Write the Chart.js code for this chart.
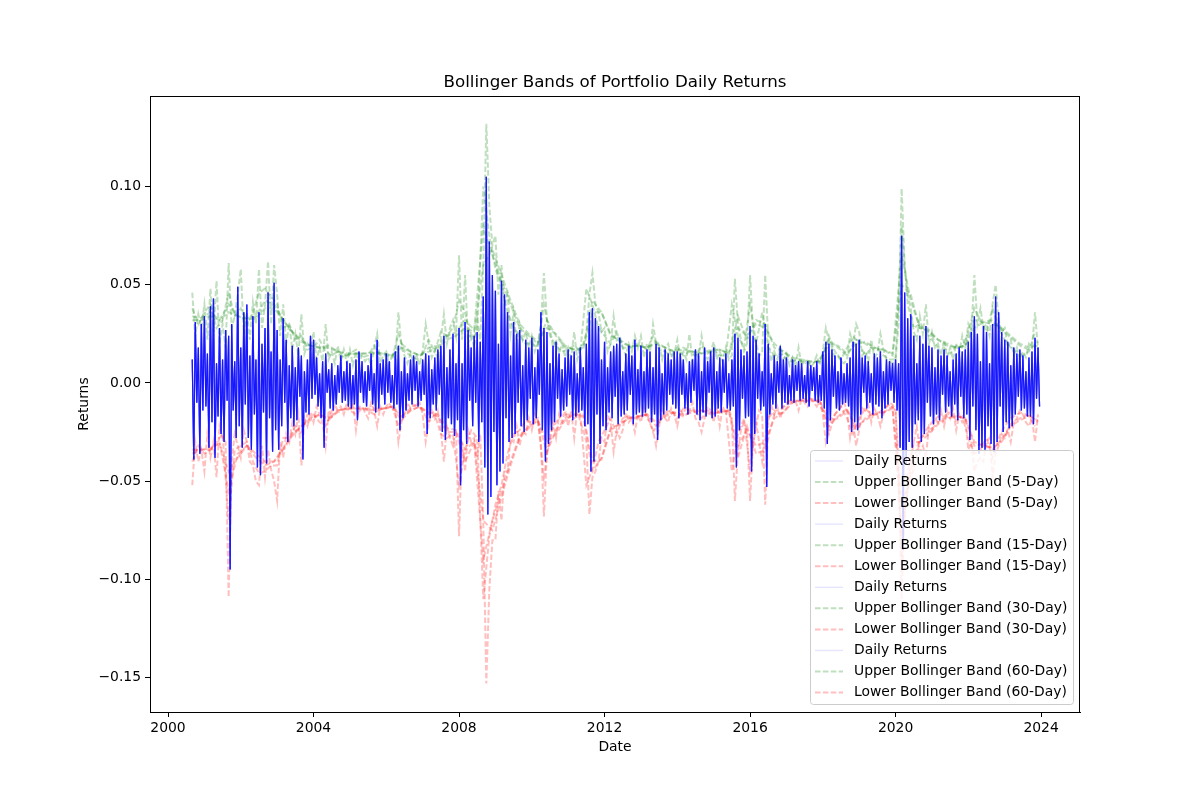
<!DOCTYPE html>
<html>
<head>
<meta charset="utf-8">
<title>Bollinger Bands of Portfolio Daily Returns</title>
<script src="https://cdn.jsdelivr.net/npm/chart.js@4.4.1/dist/chart.umd.min.js"></script>
<style>
  html, body { margin: 0; padding: 0; background: #ffffff; }
  #wrap { position: relative; width: 1200px; height: 800px; }
</style>
</head>
<body>
<div id="wrap"><canvas id="bbChart"></canvas></div>
<script>
// Daily returns: two readings per month, Sep 2000 .. Dec 2023
const returnsStart = 2000 + 8 / 12;
const returnsStep = 1 / 24;
const dailyReturns = [
  0.012, -0.039, 0.031, -0.010, 0.018, -0.036, 0.030, -0.014, // 2000
  0.034, -0.012, 0.015, -0.033, 0.039, -0.020, 0.043, -0.038, 0.010, -0.017, 0.028, -0.026, 0.012, -0.030, 0.027, -0.009, 0.024, -0.095, 0.030, -0.014, 0.011, -0.028, 0.049, -0.022, // 2001
  0.018, -0.033, 0.036, -0.011, 0.040, -0.028, 0.014, -0.034, 0.034, -0.016, 0.012, -0.043, 0.036, -0.047, 0.020, -0.015, 0.028, -0.041, 0.046, -0.018, 0.016, -0.035, 0.051, -0.024, // 2002
  0.027, -0.034, 0.012, -0.022, 0.033, -0.010, 0.022, -0.030, 0.009, -0.018, 0.019, -0.022, 0.008, -0.019, 0.018, -0.007, 0.014, -0.039, 0.006, -0.015, 0.012, -0.016, 0.024, -0.008, // 2003
  0.022, -0.006, 0.013, -0.012, 0.005, -0.018, 0.011, -0.033, 0.015, -0.005, 0.007, -0.013, 0.010, -0.014, 0.004, -0.011, 0.009, -0.005, 0.014, -0.010, 0.006, -0.009, 0.011, -0.012, // 2004
  0.010, -0.013, 0.004, -0.011, 0.012, -0.019, 0.016, -0.005, 0.011, -0.010, 0.006, -0.012, 0.009, -0.004, 0.015, -0.011, 0.005, -0.015, 0.022, -0.013, 0.010, -0.006, 0.012, -0.011, // 2005
  0.015, -0.005, 0.011, -0.010, 0.004, -0.013, 0.016, -0.011, 0.019, -0.024, 0.006, -0.018, 0.013, -0.014, 0.005, -0.009, 0.012, -0.011, 0.014, -0.004, 0.011, -0.012, 0.006, -0.009, // 2006
  0.012, -0.006, 0.015, -0.026, 0.014, -0.018, 0.007, -0.011, 0.013, -0.014, 0.017, -0.006, 0.019, -0.025, 0.024, -0.029, 0.008, -0.018, 0.017, -0.021, 0.025, -0.027, 0.010, -0.019, // 2007
  0.028, -0.052, 0.010, -0.024, 0.031, -0.031, 0.027, -0.009, 0.018, -0.022, 0.024, -0.010, 0.026, -0.030, 0.021, -0.020, 0.044, -0.043, 0.105, -0.067, 0.072, -0.058, 0.055, -0.025, // 2008
  0.047, -0.052, 0.020, -0.045, 0.052, -0.041, 0.045, -0.018, 0.036, -0.030, 0.014, -0.028, 0.031, -0.026, 0.025, -0.010, 0.027, -0.022, 0.009, -0.025, 0.022, -0.019, 0.018, -0.008, // 2009
  0.023, -0.021, 0.008, -0.018, 0.017, -0.006, 0.036, -0.024, 0.028, -0.040, 0.026, -0.031, 0.010, -0.024, 0.019, -0.020, 0.021, -0.008, 0.015, -0.017, 0.007, -0.014, 0.013, -0.012, // 2010
  0.017, -0.006, 0.014, -0.019, 0.016, -0.017, 0.005, -0.015, 0.018, -0.014, 0.008, -0.022, 0.020, -0.021, 0.036, -0.045, 0.038, -0.040, 0.033, -0.016, 0.029, -0.031, 0.012, -0.022, // 2011
  0.021, -0.024, 0.008, -0.015, 0.016, -0.018, 0.019, -0.007, 0.020, -0.021, 0.023, -0.017, 0.006, -0.016, 0.015, -0.014, 0.019, -0.006, 0.014, -0.021, 0.022, -0.016, 0.007, -0.015, // 2012
  0.019, -0.017, 0.006, -0.015, 0.017, -0.013, 0.016, -0.020, 0.008, -0.016, 0.020, -0.029, 0.018, -0.019, 0.005, -0.016, 0.017, -0.014, 0.015, -0.006, 0.012, -0.011, 0.016, -0.013, // 2013
  0.016, -0.018, 0.015, -0.006, 0.012, -0.013, 0.005, -0.016, 0.011, -0.010, 0.012, -0.004, 0.017, -0.016, 0.015, -0.019, 0.006, -0.015, 0.018, -0.017, 0.011, -0.005, 0.016, -0.018, // 2014
  0.018, -0.017, 0.006, -0.013, 0.013, -0.015, 0.012, -0.005, 0.015, -0.013, 0.005, -0.014, 0.012, -0.012, 0.025, -0.043, 0.023, -0.024, 0.017, -0.008, 0.014, -0.018, 0.016, -0.017, // 2015
  0.029, -0.045, 0.024, -0.026, 0.022, -0.008, 0.015, -0.014, 0.006, -0.012, 0.030, -0.053, 0.020, -0.016, 0.005, -0.011, 0.014, -0.013, 0.011, -0.005, 0.019, -0.013, 0.012, -0.010, // 2016
  0.013, -0.011, 0.004, -0.009, 0.012, -0.010, 0.009, -0.004, 0.011, -0.009, 0.010, -0.008, 0.004, -0.010, 0.011, -0.012, 0.009, -0.004, 0.008, -0.009, 0.011, -0.010, 0.004, -0.009, // 2017
  0.016, -0.013, 0.021, -0.031, 0.020, -0.019, 0.017, -0.007, 0.014, -0.013, 0.006, -0.014, 0.013, -0.011, 0.005, -0.010, 0.010, -0.012, 0.013, -0.025, 0.021, -0.020, 0.020, -0.024, // 2018
  0.022, -0.016, 0.013, -0.005, 0.014, -0.013, 0.011, -0.010, 0.005, -0.016, 0.015, -0.011, 0.013, -0.012, 0.016, -0.018, 0.006, -0.013, 0.012, -0.011, 0.011, -0.004, 0.010, -0.010, // 2019
  0.012, -0.014, 0.010, -0.033, 0.075, -0.085, 0.046, -0.041, 0.033, -0.030, 0.035, -0.033, 0.024, -0.021, 0.010, -0.019, 0.024, -0.030, 0.020, -0.026, 0.029, -0.010, 0.019, -0.017, // 2020
  0.018, -0.021, 0.008, -0.016, 0.017, -0.019, 0.014, -0.006, 0.017, -0.015, 0.014, -0.012, 0.006, -0.017, 0.012, -0.011, 0.015, -0.019, 0.018, -0.007, 0.016, -0.018, 0.017, -0.016, // 2021
  0.021, -0.029, 0.026, -0.012, 0.034, -0.024, 0.025, -0.036, 0.011, -0.033, 0.029, -0.034, 0.026, -0.022, 0.010, -0.031, 0.030, -0.035, 0.044, -0.030, 0.036, -0.012, 0.026, -0.025, // 2022
  0.022, -0.020, 0.021, -0.023, 0.009, -0.022, 0.018, -0.016, 0.015, -0.007, 0.017, -0.014, 0.014, -0.013, 0.006, -0.017, 0.013, -0.017, 0.016, -0.021, 0.023, -0.008, 0.018, -0.012  // 2023
];

// 5-day bands, one reading per month (Sep 2000 .. Dec 2023)
const band5Start = 2000 + 8 / 12;
const band5Step = 1 / 12;
const upper5 = [
  0.046, 0.024, 0.035, 0.028,
  0.040, 0.022, 0.048, 0.026, 0.052, 0.020, 0.030, 0.018, 0.061, 0.028, 0.034, 0.045,
  0.058, 0.025, 0.036, 0.022, 0.041, 0.030, 0.058, 0.028, 0.040, 0.062, 0.030, 0.060,
  0.045, 0.024, 0.040, 0.020, 0.030, 0.017, 0.025, 0.014, 0.035, 0.015, 0.020, 0.018,
  0.026, 0.012, 0.018, 0.011, 0.030, 0.012, 0.016, 0.010, 0.019, 0.011, 0.017, 0.010,
  0.017, 0.009, 0.016, 0.010, 0.014, 0.011, 0.013, 0.009, 0.018, 0.025, 0.010, 0.014,
  0.016, 0.009, 0.015, 0.012, 0.036, 0.018, 0.014, 0.010, 0.015, 0.011, 0.014, 0.009,
  0.016, 0.030, 0.020, 0.013, 0.017, 0.012, 0.022, 0.035, 0.020, 0.028, 0.032, 0.024,
  0.065, 0.022, 0.055, 0.020, 0.026, 0.018, 0.032, 0.022, 0.060, 0.132, 0.090, 0.070,
  0.075, 0.045, 0.060, 0.040, 0.045, 0.025, 0.036, 0.020, 0.030, 0.022, 0.026, 0.018,
  0.024, 0.016, 0.020, 0.030, 0.056, 0.032, 0.028, 0.018, 0.022, 0.015, 0.020, 0.013,
  0.018, 0.013, 0.026, 0.012, 0.018, 0.020, 0.025, 0.045, 0.056, 0.040, 0.036, 0.026,
  0.028, 0.016, 0.020, 0.034, 0.022, 0.024, 0.018, 0.014, 0.020, 0.016, 0.024, 0.018,
  0.024, 0.013, 0.020, 0.016, 0.030, 0.020, 0.019, 0.012, 0.018, 0.020, 0.013, 0.015,
  0.022, 0.013, 0.016, 0.012, 0.025, 0.011, 0.016, 0.013, 0.024, 0.015, 0.012, 0.016,
  0.021, 0.012, 0.016, 0.011, 0.018, 0.012, 0.014, 0.053, 0.030, 0.022, 0.016, 0.020,
  0.055, 0.026, 0.020, 0.014, 0.015, 0.055, 0.022, 0.011, 0.016, 0.012, 0.018, 0.012,
  0.015, 0.009, 0.013, 0.008, 0.018, 0.009, 0.011, 0.012, 0.008, 0.010, 0.014, 0.009,
  0.016, 0.028, 0.022, 0.018, 0.013, 0.014, 0.011, 0.010, 0.012, 0.025, 0.020, 0.030,
  0.026, 0.014, 0.016, 0.011, 0.022, 0.013, 0.015, 0.025, 0.017, 0.012, 0.011, 0.010,
  0.012, 0.030, 0.099, 0.060, 0.045, 0.038, 0.026, 0.022, 0.034, 0.025, 0.040, 0.020,
  0.026, 0.018, 0.020, 0.014, 0.022, 0.013, 0.018, 0.012, 0.020, 0.015, 0.024, 0.018,
  0.030, 0.026, 0.055, 0.030, 0.038, 0.028, 0.030, 0.024, 0.040, 0.050, 0.032, 0.026,
  0.028, 0.018, 0.022, 0.014, 0.018, 0.012, 0.016, 0.013, 0.020, 0.018, 0.036, 0.017
];
const lower5 = [
  -0.052, -0.030, -0.040, -0.034,
  -0.045, -0.026, -0.038, -0.030, -0.048, -0.022, -0.028, -0.030, -0.109, -0.040, -0.026, -0.032,
  -0.038, -0.024, -0.030, -0.040, -0.042, -0.050, -0.052, -0.032, -0.048, -0.034, -0.044, -0.050,
  -0.060, -0.030, -0.038, -0.026, -0.030, -0.020, -0.026, -0.016, -0.042, -0.018, -0.022, -0.015,
  -0.020, -0.012, -0.016, -0.020, -0.032, -0.014, -0.018, -0.011, -0.014, -0.012, -0.016, -0.010,
  -0.014, -0.010, -0.024, -0.012, -0.012, -0.015, -0.018, -0.010, -0.014, -0.022, -0.012, -0.016,
  -0.012, -0.010, -0.014, -0.013, -0.030, -0.020, -0.016, -0.010, -0.013, -0.011, -0.012, -0.010,
  -0.016, -0.030, -0.020, -0.013, -0.018, -0.014, -0.024, -0.040, -0.022, -0.028, -0.032, -0.024,
  -0.078, -0.030, -0.045, -0.024, -0.030, -0.028, -0.038, -0.026, -0.070, -0.153, -0.105, -0.080,
  -0.080, -0.055, -0.070, -0.045, -0.045, -0.028, -0.030, -0.022, -0.032, -0.024, -0.026, -0.018,
  -0.024, -0.016, -0.020, -0.030, -0.068, -0.035, -0.030, -0.020, -0.028, -0.016, -0.020, -0.014,
  -0.022, -0.014, -0.028, -0.013, -0.020, -0.024, -0.030, -0.067, -0.048, -0.045, -0.040, -0.028,
  -0.030, -0.016, -0.020, -0.035, -0.024, -0.028, -0.024, -0.015, -0.020, -0.018, -0.025, -0.016,
  -0.020, -0.013, -0.018, -0.020, -0.024, -0.032, -0.022, -0.014, -0.018, -0.020, -0.013, -0.016,
  -0.022, -0.014, -0.016, -0.012, -0.014, -0.010, -0.018, -0.020, -0.025, -0.018, -0.012, -0.014,
  -0.020, -0.012, -0.022, -0.012, -0.016, -0.013, -0.018, -0.060, -0.035, -0.024, -0.020, -0.024,
  -0.060, -0.030, -0.022, -0.014, -0.016, -0.062, -0.020, -0.011, -0.016, -0.012, -0.018, -0.012,
  -0.012, -0.008, -0.010, -0.009, -0.014, -0.008, -0.010, -0.012, -0.008, -0.010, -0.012, -0.009,
  -0.016, -0.030, -0.022, -0.018, -0.016, -0.014, -0.012, -0.010, -0.014, -0.028, -0.020, -0.032,
  -0.024, -0.012, -0.014, -0.011, -0.020, -0.013, -0.016, -0.022, -0.016, -0.012, -0.010, -0.011,
  -0.014, -0.040, -0.110, -0.065, -0.055, -0.040, -0.030, -0.022, -0.035, -0.032, -0.038, -0.022,
  -0.024, -0.018, -0.020, -0.014, -0.022, -0.014, -0.018, -0.013, -0.024, -0.016, -0.020, -0.018,
  -0.034, -0.030, -0.045, -0.040, -0.038, -0.040, -0.030, -0.028, -0.048, -0.036, -0.032, -0.026,
  -0.028, -0.024, -0.030, -0.020, -0.018, -0.014, -0.016, -0.020, -0.022, -0.018, -0.030, -0.016
];

// 15-day bands, one reading every two months (Sep 2000 .. Nov 2023)
const band15Start = 2000 + 8 / 12;
const band15Step = 1 / 6;
const upper15 = [
  0.038, 0.030,
  0.036, 0.040, 0.028, 0.032, 0.046, 0.034,
  0.038, 0.030, 0.036, 0.046, 0.048, 0.044,
  0.040, 0.028, 0.030, 0.022, 0.024, 0.017,
  0.018, 0.022, 0.016, 0.014, 0.016, 0.013,
  0.015, 0.017, 0.013, 0.014, 0.019, 0.014,
  0.014, 0.013, 0.025, 0.016, 0.014, 0.012,
  0.015, 0.022, 0.016, 0.026, 0.024, 0.028,
  0.042, 0.036, 0.022, 0.026, 0.100, 0.075,
  0.058, 0.050, 0.036, 0.028, 0.024, 0.020,
  0.020, 0.018, 0.040, 0.024, 0.019, 0.016,
  0.017, 0.019, 0.016, 0.048, 0.040, 0.028,
  0.024, 0.020, 0.026, 0.018, 0.018, 0.019,
  0.019, 0.017, 0.024, 0.017, 0.016, 0.014,
  0.018, 0.014, 0.016, 0.014, 0.019, 0.015,
  0.017, 0.014, 0.014, 0.040, 0.024, 0.018,
  0.040, 0.020, 0.036, 0.018, 0.014, 0.015,
  0.012, 0.011, 0.012, 0.010, 0.010, 0.011,
  0.014, 0.024, 0.016, 0.012, 0.018, 0.024,
  0.020, 0.014, 0.018, 0.018, 0.014, 0.012,
  0.012, 0.080, 0.040, 0.028, 0.030, 0.026,
  0.022, 0.018, 0.018, 0.015, 0.019, 0.018,
  0.026, 0.038, 0.032, 0.026, 0.038, 0.028,
  0.022, 0.018, 0.016, 0.014, 0.016, 0.026
];
const lower15 = [
  -0.040, -0.032,
  -0.036, -0.034, -0.030, -0.026, -0.070, -0.034,
  -0.032, -0.030, -0.040, -0.046, -0.045, -0.042,
  -0.042, -0.028, -0.028, -0.022, -0.026, -0.016,
  -0.016, -0.020, -0.022, -0.014, -0.014, -0.013,
  -0.014, -0.016, -0.013, -0.014, -0.016, -0.013,
  -0.013, -0.012, -0.022, -0.015, -0.013, -0.011,
  -0.014, -0.020, -0.016, -0.026, -0.028, -0.026,
  -0.052, -0.034, -0.024, -0.028, -0.110, -0.078,
  -0.062, -0.052, -0.036, -0.026, -0.024, -0.019,
  -0.020, -0.018, -0.048, -0.026, -0.020, -0.016,
  -0.016, -0.018, -0.016, -0.052, -0.044, -0.030,
  -0.024, -0.018, -0.026, -0.018, -0.017, -0.018,
  -0.017, -0.016, -0.025, -0.020, -0.015, -0.014,
  -0.018, -0.013, -0.014, -0.015, -0.018, -0.014,
  -0.016, -0.014, -0.014, -0.045, -0.026, -0.018,
  -0.044, -0.020, -0.040, -0.018, -0.014, -0.014,
  -0.010, -0.009, -0.009, -0.008, -0.008, -0.009,
  -0.014, -0.026, -0.016, -0.012, -0.018, -0.026,
  -0.018, -0.013, -0.016, -0.016, -0.013, -0.011,
  -0.014, -0.090, -0.045, -0.030, -0.030, -0.024,
  -0.020, -0.017, -0.017, -0.015, -0.019, -0.017,
  -0.028, -0.036, -0.034, -0.028, -0.038, -0.028,
  -0.022, -0.018, -0.016, -0.015, -0.017, -0.022
];

// 30/60-day bands, one reading per quarter (Sep 2000 .. Dec 2023)
const bandQStart = 2000 + 8 / 12;
const bandQStep = 1 / 4;
const upper30 = [
  0.034, 0.033,
  0.036, 0.032, 0.040, 0.034,   0.033, 0.034, 0.042, 0.040,   0.032, 0.026, 0.021, 0.019,
  0.018, 0.019, 0.016, 0.014,   0.015, 0.015, 0.016, 0.015,   0.014, 0.020, 0.016, 0.014,
  0.018, 0.019, 0.024, 0.026,   0.032, 0.027, 0.080, 0.065,   0.052, 0.040, 0.028, 0.024,
  0.020, 0.032, 0.024, 0.018,   0.017, 0.018, 0.042, 0.036,   0.024, 0.022, 0.019, 0.019,
  0.018, 0.021, 0.018, 0.016,   0.018, 0.016, 0.015, 0.017,   0.017, 0.015, 0.034, 0.022,
  0.032, 0.030, 0.018, 0.016,   0.012, 0.011, 0.011, 0.011,   0.022, 0.018, 0.014, 0.022,
  0.020, 0.017, 0.017, 0.014,   0.065, 0.042, 0.028, 0.026,   0.022, 0.019, 0.018, 0.019,
  0.032, 0.031, 0.032, 0.027,   0.023, 0.019, 0.017, 0.021
];
const lower30 = [
  -0.036, -0.034,
  -0.034, -0.030, -0.055, -0.036,   -0.032, -0.038, -0.042, -0.040,   -0.033, -0.026, -0.022, -0.018,
  -0.016, -0.019, -0.014, -0.013,   -0.013, -0.013, -0.014, -0.013,   -0.012, -0.019, -0.014, -0.012,
  -0.016, -0.017, -0.025, -0.025,   -0.040, -0.030, -0.090, -0.070,   -0.055, -0.040, -0.027, -0.022,
  -0.019, -0.035, -0.024, -0.018,   -0.016, -0.017, -0.045, -0.038,   -0.023, -0.021, -0.018, -0.017,
  -0.016, -0.022, -0.016, -0.015,   -0.017, -0.014, -0.014, -0.016,   -0.015, -0.014, -0.038, -0.022,
  -0.036, -0.034, -0.016, -0.015,   -0.009, -0.009, -0.009, -0.009,   -0.022, -0.017, -0.013, -0.024,
  -0.018, -0.015, -0.015, -0.012,   -0.075, -0.045, -0.028, -0.025,   -0.020, -0.017, -0.017, -0.018,
  -0.032, -0.031, -0.034, -0.029,   -0.021, -0.018, -0.016, -0.020
];
const upper60 = [
  0.032, 0.032,
  0.034, 0.032, 0.036, 0.034,   0.032, 0.033, 0.038, 0.038,   0.032, 0.026, 0.022, 0.019,
  0.018, 0.018, 0.016, 0.015,   0.015, 0.015, 0.015, 0.015,   0.014, 0.018, 0.016, 0.014,
  0.016, 0.018, 0.022, 0.024,   0.028, 0.026, 0.060, 0.068,   0.055, 0.042, 0.030, 0.025,
  0.021, 0.028, 0.025, 0.019,   0.017, 0.017, 0.036, 0.036,   0.025, 0.021, 0.019, 0.019,
  0.018, 0.020, 0.018, 0.016,   0.017, 0.016, 0.015, 0.016,   0.017, 0.015, 0.028, 0.024,
  0.030, 0.028, 0.020, 0.016,   0.013, 0.012, 0.011, 0.011,   0.020, 0.019, 0.015, 0.020,
  0.021, 0.018, 0.017, 0.015,   0.050, 0.045, 0.028, 0.027,   0.022, 0.020, 0.018, 0.019,
  0.028, 0.031, 0.030, 0.028,   0.024, 0.020, 0.018, 0.019
];
const lower60 = [
  -0.034, -0.034,
  -0.033, -0.031, -0.045, -0.038,   -0.032, -0.036, -0.040, -0.040,   -0.034, -0.027, -0.022, -0.019,
  -0.016, -0.018, -0.015, -0.013,   -0.013, -0.013, -0.013, -0.013,   -0.012, -0.017, -0.014, -0.012,
  -0.015, -0.016, -0.023, -0.024,   -0.034, -0.030, -0.070, -0.075,   -0.058, -0.042, -0.028, -0.023,
  -0.019, -0.030, -0.026, -0.019,   -0.016, -0.016, -0.040, -0.039,   -0.024, -0.021, -0.018, -0.017,
  -0.016, -0.020, -0.017, -0.015,   -0.016, -0.015, -0.014, -0.015,   -0.015, -0.014, -0.032, -0.024,
  -0.032, -0.030, -0.018, -0.015,   -0.010, -0.009, -0.009, -0.009,   -0.019, -0.018, -0.014, -0.022,
  -0.019, -0.016, -0.015, -0.013,   -0.060, -0.050, -0.030, -0.026,   -0.021, -0.018, -0.017, -0.018,
  -0.030, -0.032, -0.033, -0.030,   -0.022, -0.019, -0.017, -0.019
];

// Axis ticks
const xTickYears = [2000, 2004, 2008, 2012, 2016, 2020, 2024];
const yTickValues = [-0.15, -0.10, -0.05, 0.00, 0.05, 0.10];

const windows = ['5-Day', '15-Day', '30-Day', '60-Day'];

// Colours
const RETURNS_COLOR = 'rgba(0, 0, 255, 0.45)';
const UPPER_COLOR = 'rgba(0, 128, 0, 0.25)';
const LOWER_COLOR = 'rgba(255, 0, 0, 0.25)';
const FONT = '"DejaVu Sans", "Liberation Sans", sans-serif';

// turn an array of readings into {x, y} points on the time axis
function toPoints(values, start, step) {
    return values.map((v, i) => ({ x: start + i * step, y: v }));
}

const bands = {
    '5-Day':  { upper: toPoints(upper5, band5Start, band5Step), lower: toPoints(lower5, band5Start, band5Step) },
    '15-Day': { upper: toPoints(upper15, band15Start, band15Step), lower: toPoints(lower15, band15Start, band15Step) },
    '30-Day': { upper: toPoints(upper30, bandQStart, bandQStep), lower: toPoints(lower30, bandQStart, bandQStep) },
    '60-Day': { upper: toPoints(upper60, bandQStart, bandQStep), lower: toPoints(lower60, bandQStart, bandQStep) }
};
const returnPoints = toPoints(dailyReturns, returnsStart, returnsStep);

// Build datasets in the same order as the legend
const datasets = [];
windows.forEach(w => {
    datasets.push({
        label: 'Daily Returns', data: returnPoints,
        borderColor: RETURNS_COLOR, borderWidth: 1.25, order: 0
    });
    datasets.push({
        label: 'Upper Bollinger Band (' + w + ')', data: bands[w].upper,
        borderColor: UPPER_COLOR, borderWidth: 2, borderDash: [5.5, 2.4], order: 1
    });
    datasets.push({
        label: 'Lower Bollinger Band (' + w + ')', data: bands[w].lower,
        borderColor: LOWER_COLOR, borderWidth: 2, borderDash: [5.5, 2.4], order: 1
    });
});

// Title, frame and the boxed legend in the lower right
const decorPlugin = {
    id: 'decor',
    afterDraw(chart) {
        const { ctx, chartArea } = chart;
        ctx.save();

        // frame around the plot
        ctx.strokeStyle = '#000';
        ctx.lineWidth = 1;
        ctx.strokeRect(chartArea.left + 0.5, chartArea.top + 0.5,
                       chartArea.right - chartArea.left - 1, chartArea.bottom - chartArea.top);

        // title
        ctx.fillStyle = '#000';
        ctx.font = '16.7px ' + FONT;
        ctx.textAlign = 'center';
        ctx.textBaseline = 'middle';
        ctx.fillText('Bollinger Bands of Portfolio Daily Returns', (chartArea.left + chartArea.right) / 2, 83);

        // legend
        const bx = 810.5, by = 450.5, bw = 263, bh = 254, r = 3;
        ctx.beginPath();
        ctx.moveTo(bx + r, by);
        ctx.arcTo(bx + bw, by, bx + bw, by + bh, r);
        ctx.arcTo(bx + bw, by + bh, bx, by + bh, r);
        ctx.arcTo(bx, by + bh, bx, by, r);
        ctx.arcTo(bx, by, bx + bw, by, r);
        ctx.closePath();
        ctx.fillStyle = 'rgba(255, 255, 255, 0.8)';
        ctx.fill();
        ctx.strokeStyle = '#cccccc';
        ctx.lineWidth = 1;
        ctx.stroke();

        ctx.font = '13.9px ' + FONT;
        ctx.textAlign = 'left';
        datasets.forEach((ds, i) => {
            const y = 461 + i * 21.05;
            ctx.beginPath();
            if (ds.label === 'Daily Returns') {
                ctx.strokeStyle = 'rgba(0, 0, 255, 0.1)';
                ctx.lineWidth = 1.4;
                ctx.setLineDash([]);
            } else {
                ctx.strokeStyle = ds.borderColor;
                ctx.lineWidth = 2;
                ctx.setLineDash([5.5, 2.4]);
            }
            ctx.moveTo(815, y);
            ctx.lineTo(843, y);
            ctx.stroke();
            ctx.setLineDash([]);
            ctx.fillStyle = '#000';
            ctx.fillText(ds.label, 854, y);
        });
        ctx.restore();
    }
};

new Chart(document.getElementById('bbChart').getContext('2d'), {
    type: 'line',
    data: { datasets: datasets },
    options: {
        responsive: true,
        maintainAspectRatio: false,
        animation: false,
        elements: { point: { radius: 0 }, line: { tension: 0, fill: false } },
        layout: { padding: { top: 96, right: 120, bottom: 0, left: 0 } },
        plugins: { legend: { display: false }, tooltip: { enabled: false }, title: { display: false } },
        scales: {
            x: {
                type: 'linear',
                min: 1999.505,
                max: 2025.07,
                afterFit: s => { s.height = 88; },
                afterBuildTicks: s => { s.ticks = xTickYears.map(v => ({ value: v })); },
                grid: { display: true, drawOnChartArea: false, drawTicks: true, tickLength: 5, color: '#000' },
                border: { display: true, color: '#000' },
                ticks: {
                    color: '#000', padding: 3, maxRotation: 0,
                    font: { family: FONT, size: 13.9 },
                    callback: v => String(Math.round(v))
                },
                title: {
                    display: true, text: 'Date', color: '#000',
                    font: { family: FONT, size: 13.9 },
                    padding: { top: 0, bottom: 44.5 }
                }
            },
            y: {
                type: 'linear',
                min: -0.1675,
                max: 0.1461,
                afterFit: s => { s.width = 150; },
                afterBuildTicks: s => { s.ticks = yTickValues.map(v => ({ value: v })); },
                grid: { display: true, drawOnChartArea: false, drawTicks: true, tickLength: 5, color: '#000' },
                border: { display: true, color: '#000' },
                ticks: {
                    color: '#000', padding: 4,
                    font: { family: FONT, size: 13.9 },
                    callback: v => (v < 0 ? '\u2212' : '') + Math.abs(v).toFixed(2)
                },
                title: {
                    display: true, text: 'Returns', color: '#000',
                    font: { family: FONT, size: 13.9 },
                    padding: { top: 76.5, bottom: 0 }
                }
            }
        }
    },
    plugins: [decorPlugin]
});
</script>
</body>
</html>
